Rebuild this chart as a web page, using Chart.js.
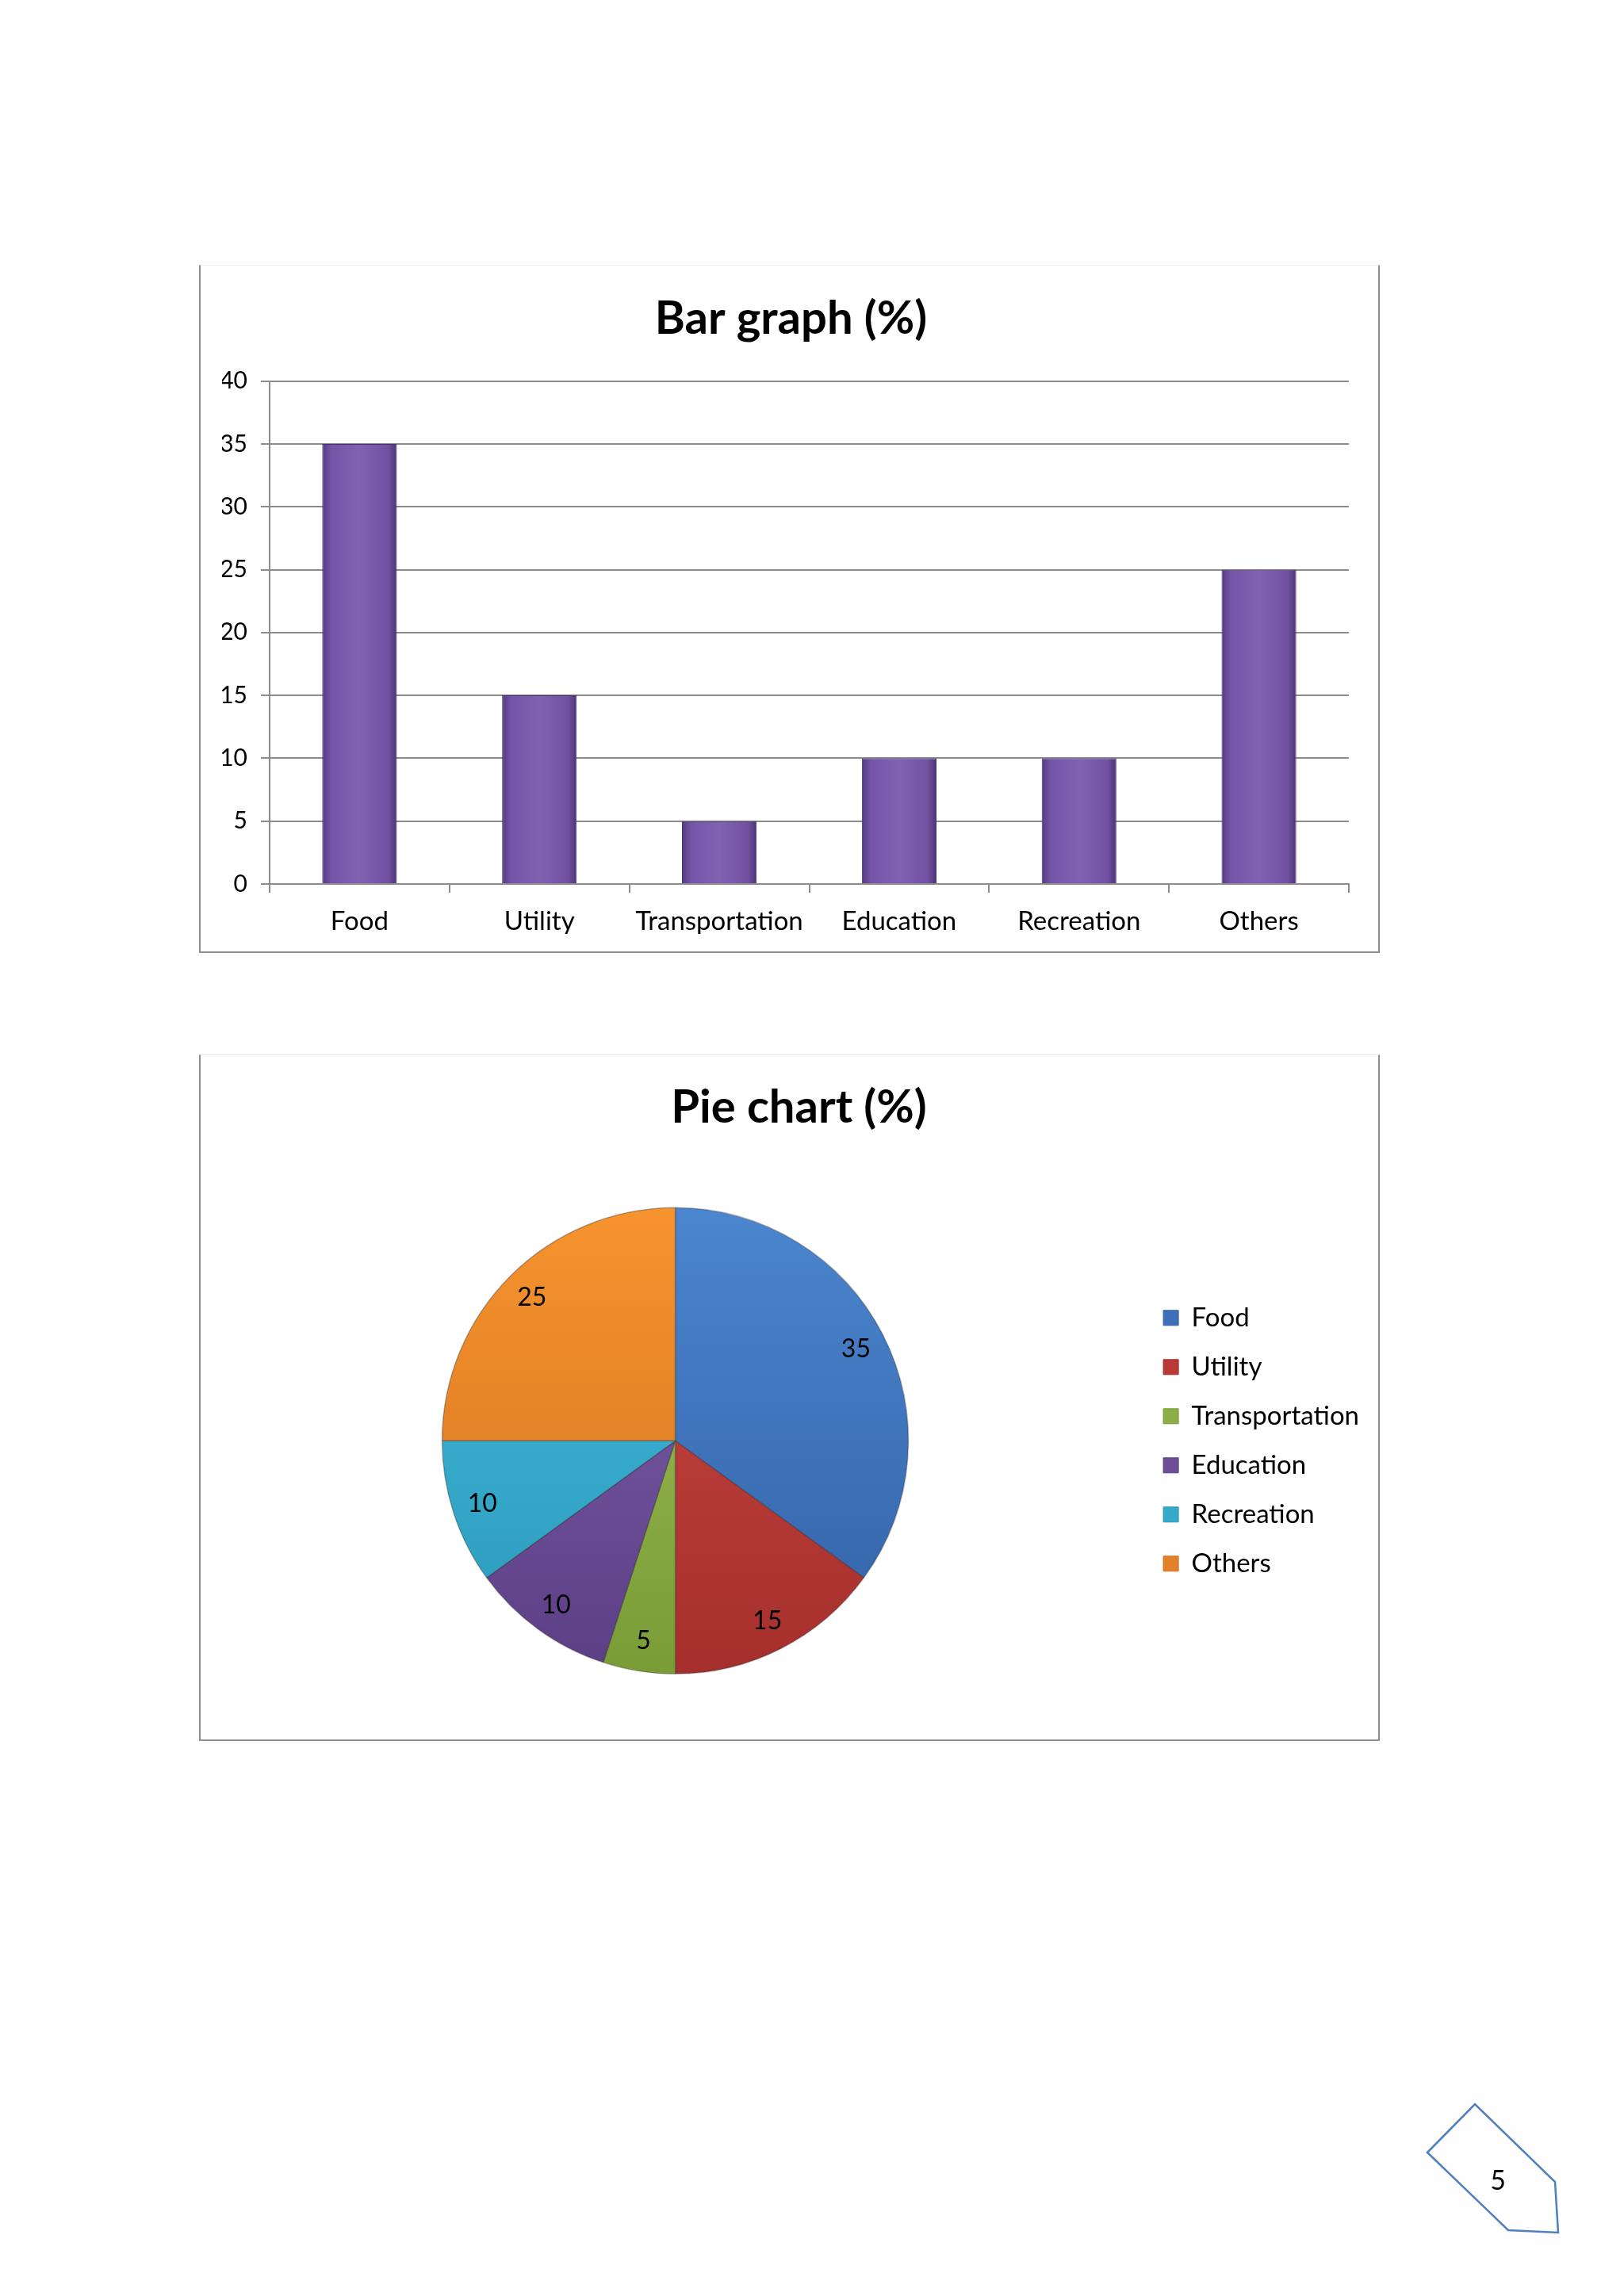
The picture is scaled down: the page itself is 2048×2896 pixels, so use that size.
<!DOCTYPE html>
<html>
<head>
<meta charset="utf-8">
<script src="https://cdn.jsdelivr.net/npm/chart.js@4.4.1/dist/chart.umd.min.js"></script>
<style>
  html, body { margin: 0; padding: 0; background: #fefefe; }
  body { width: 2048px; height: 2896px; position: relative; overflow: hidden; font-family: Lato, sans-serif; }
  .frame { position: absolute; background: #ffffff; box-sizing: border-box;
           border-left: 2px solid #8e8e8e; border-right: 2px solid #8e8e8e;
           border-bottom: 2px solid #8e8e8e; border-top: 1px solid #ececec; }
  .frame canvas { position: absolute; left: 0; top: 0; }
  #pagenum { position: absolute; left: 0; top: 0; }
</style>
</head>
<body>
<div class="frame" id="barFrame" style="left:251px; top:334px; width:1489px; height:868px;">
  <canvas id="bar" width="1485" height="865"></canvas>
</div>
<div class="frame" id="pieFrame" style="left:251px; top:1330px; width:1489px; height:866px;">
  <canvas id="pie" width="1485" height="863"></canvas>
</div>
<svg id="pagenum" width="2048" height="2896">
  <polygon points="1800,2715 1860,2654 1961,2752 1965,2816 1902,2813" fill="none" stroke="#4f7fbf" stroke-width="2.5"/>
  <text x="1889" y="2762" font-family="Lato, sans-serif" font-size="34" text-anchor="middle" fill="#000">5</text>
</svg>
<script>
// ---- data ----
const categories = ['Food', 'Utility', 'Transportation', 'Education', 'Recreation', 'Others'];
const barValues = [35, 15, 5, 10, 10, 25];
const pieValues = [35, 15, 5, 10, 10, 25];
const yTickMin = 0;
const yTickMax = 40;
const yTickStep = 5;
const barTitle = 'Bar graph (%)';
const pieTitle = 'Pie chart (%)';

// ---- styles ----
const sliceLight = ['#4b86cf', '#cc4843', '#a0c058', '#8063ad', '#44bddc', '#f7942f'];
const sliceDark  = ['#3261a6', '#a52f2c', '#7a9c36', '#5c3e85', '#2a98bb', '#d0711f'];
const sliceSolid = ['#3d70b8', '#b83a37', '#8cae47', '#6c4d98', '#35a9c9', '#e3812a'];
const FONT = 'Lato, "Open Sans", sans-serif';
const gridColor = '#8c8c8c';

Chart.defaults.font.family = FONT;
Chart.defaults.color = '#000';

// shifts the chart title horizontally (title box only)
const titleShift = (dx) => ({
  id: 'titleShift',
  afterLayout(chart) {
    const t = chart.titleBlock;
    if (t) { t.left += dx; t.right += dx; }
  }
});

// ---- Bar chart ----
const barCtx = document.getElementById('bar').getContext('2d');
const BAR_FRAC = 0.415;
new Chart(barCtx, {
  type: 'bar',
  data: {
    labels: categories,
    datasets: [{
      data: barValues,
      backgroundColor: (c) => {
        const chart = c.chart;
        const sx = chart.scales && chart.scales.x;
        if (!chart.chartArea || !sx || c.dataIndex === undefined) return '#7a5aad';
        const cx = sx.getPixelForValue(c.dataIndex);
        const w = sx.width / categories.length * BAR_FRAC;
        const g = chart.ctx.createLinearGradient(cx - w / 2, 0, cx + w / 2, 0);
        g.addColorStop(0, '#543a82');
        g.addColorStop(0.12, '#7454a6');
        g.addColorStop(0.5, '#8061b2');
        g.addColorStop(0.88, '#7251a3');
        g.addColorStop(1, '#4d3476');
        return g;
      },
      borderColor: '#4a3272',
      borderWidth: 1,
      barPercentage: BAR_FRAC,
      categoryPercentage: 1.0
    }]
  },
  options: {
    responsive: false,
    animation: false,
    layout: { padding: { left: 27, right: 37, top: 0, bottom: 22 } },
    plugins: {
      legend: { display: false },
      tooltip: { enabled: false },
      title: {
        display: true,
        text: barTitle,
        color: '#000',
        font: { size: 58, weight: 'bold', family: FONT, lineHeight: 1.2 },
        padding: { top: 32, bottom: 44 }
      }
    },
    scales: {
      x: {
        grid: { drawOnChartArea: false, drawTicks: true, tickLength: 11, color: gridColor, lineWidth: 2, offset: true },
        border: { display: true, color: gridColor, width: 2 },
        ticks: { font: { size: 33, family: FONT }, color: '#000', padding: 17, maxRotation: 0, autoSkip: false },
        afterFit: (s) => { s.height = 63; }
      },
      y: {
        min: yTickMin,
        max: yTickMax,
        grid: { drawOnChartArea: true, drawTicks: true, tickLength: 11, color: gridColor, lineWidth: 2 },
        border: { display: true, color: gridColor, width: 2 },
        ticks: { stepSize: yTickStep, font: { size: 30, family: FONT }, color: '#000', padding: 17 },
        afterFit: (s) => { s.width = 60; }
      }
    }
  },
  plugins: [titleShift(7)]
});

// ---- Pie chart ----
const pieLabelPlugin = {
  id: 'pieLabels',
  afterDatasetsDraw(chart) {
    const meta = chart.getDatasetMeta(0);
    const ctx = chart.ctx;
    ctx.save();
    ctx.font = '32px ' + FONT;
    ctx.fillStyle = '#000';
    ctx.textAlign = 'center';
    ctx.textBaseline = 'middle';
    meta.data.forEach((arc, i) => {
      const p = arc.getProps(['x', 'y', 'startAngle', 'endAngle', 'outerRadius'], true);
      const mid = (p.startAngle + p.endAngle) / 2;
      const r = p.outerRadius * 0.87;
      ctx.fillText(String(pieValues[i]), p.x + Math.cos(mid) * r, p.y + Math.sin(mid) * r);
    });
    ctx.restore();
  }
};

const pieCtx = document.getElementById('pie').getContext('2d');
new Chart(pieCtx, {
  type: 'pie',
  data: {
    labels: categories,
    datasets: [{
      data: pieValues,
      backgroundColor: (c) => {
        const chart = c.chart;
        const ca = chart.chartArea;
        const i = c.dataIndex;
        if (!ca || i === undefined) return sliceSolid[i || 0];
        const g = chart.ctx.createLinearGradient(0, ca.top, 0, ca.bottom);
        g.addColorStop(0, sliceLight[i]);
        g.addColorStop(1, sliceDark[i]);
        return g;
      },
      borderColor: 'rgba(40,40,40,0.35)',
      borderWidth: 1.5
    }]
  },
  options: {
    responsive: false,
    animation: false,
    layout: { padding: { left: 12, right: 14, top: 0, bottom: 82 } },
    plugins: {
      tooltip: { enabled: false },
      title: {
        display: true,
        text: pieTitle,
        color: '#000',
        font: { size: 58, weight: 'bold', family: FONT, lineHeight: 1.2 },
        padding: { top: 31, bottom: 91 }
      },
      legend: {
        display: true,
        position: 'right',
        align: 'center',
        fullSize: false,
        labels: {
          boxWidth: 19,
          boxHeight: 19,
          padding: 29,
          color: '#000',
          font: { size: 33, family: FONT },
          generateLabels: (chart) => categories.map((name, i) => ({
            text: name,
            fillStyle: sliceSolid[i],
            strokeStyle: sliceDark[i],
            lineWidth: 1,
            hidden: false,
            index: i
          }))
        }
      }
    }
  },
  plugins: [pieLabelPlugin, titleShift(13)]
});
</script>
</body>
</html>
